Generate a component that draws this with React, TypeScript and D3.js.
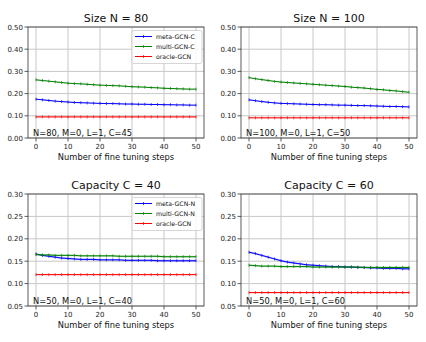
import React from "react";
import * as d3 from "d3";

const steps = d3.range(0, 51, 2);

const p1Meta = [0.175,0.172,0.169,0.166,0.164,0.162,0.160,0.159,0.158,0.157,0.156,0.155,0.155,0.154,0.153,0.153,0.152,0.152,0.151,0.151,0.150,0.150,0.149,0.149,0.148,0.148];
const p1Multi = [0.262,0.259,0.256,0.253,0.250,0.247,0.245,0.244,0.242,0.240,0.238,0.237,0.236,0.235,0.233,0.231,0.230,0.229,0.227,0.226,0.224,0.223,0.222,0.221,0.220,0.220];
const p1Oracle = [0.095,0.095,0.095,0.095,0.095,0.095,0.095,0.095,0.095,0.095,0.095,0.095,0.095,0.095,0.095,0.095,0.095,0.095,0.095,0.095,0.095,0.095,0.095,0.095,0.095,0.095];

const p2Meta = [0.172,0.168,0.164,0.161,0.158,0.156,0.155,0.154,0.153,0.152,0.151,0.150,0.150,0.149,0.148,0.148,0.147,0.146,0.146,0.145,0.144,0.143,0.142,0.142,0.141,0.140];
const p2Multi = [0.272,0.267,0.263,0.259,0.255,0.252,0.250,0.248,0.246,0.244,0.242,0.240,0.238,0.236,0.234,0.232,0.229,0.227,0.225,0.222,0.219,0.217,0.214,0.212,0.209,0.206];
const p2Oracle = [0.091,0.091,0.091,0.091,0.091,0.091,0.091,0.091,0.091,0.091,0.091,0.091,0.091,0.091,0.091,0.091,0.091,0.091,0.091,0.091,0.091,0.091,0.091,0.091,0.091,0.091];

const p3Meta = [0.166,0.163,0.161,0.159,0.157,0.156,0.155,0.154,0.154,0.154,0.153,0.153,0.153,0.153,0.152,0.152,0.152,0.152,0.152,0.151,0.151,0.151,0.151,0.151,0.151,0.151];
const p3Multi = [0.165,0.164,0.164,0.163,0.163,0.163,0.163,0.162,0.162,0.162,0.162,0.162,0.162,0.161,0.161,0.161,0.161,0.161,0.161,0.161,0.160,0.160,0.160,0.160,0.160,0.160];
const p3Oracle = [0.12,0.12,0.12,0.12,0.12,0.12,0.12,0.12,0.12,0.12,0.12,0.12,0.12,0.12,0.12,0.12,0.12,0.12,0.12,0.12,0.12,0.12,0.12,0.12,0.12,0.12];

const p4Meta = [0.170,0.167,0.163,0.159,0.155,0.151,0.148,0.146,0.144,0.142,0.141,0.140,0.139,0.138,0.138,0.137,0.137,0.136,0.136,0.135,0.135,0.134,0.134,0.134,0.133,0.133];
const p4Multi = [0.141,0.140,0.139,0.139,0.139,0.138,0.138,0.138,0.138,0.138,0.137,0.137,0.137,0.137,0.137,0.137,0.137,0.137,0.136,0.136,0.136,0.136,0.136,0.136,0.136,0.136];
const p4Oracle = [0.08,0.08,0.08,0.08,0.08,0.08,0.08,0.08,0.08,0.08,0.08,0.08,0.08,0.08,0.08,0.08,0.08,0.08,0.08,0.08,0.08,0.08,0.08,0.08,0.08,0.08];

const bandHalf = [0.002, 0.002, 0.0015];

const titles = ["Size N = 80", "Size N = 100", "Capacity C = 40", "Capacity C = 60"];
const notes = ["N=80, M=0, L=1, C=45", "N=100, M=0, L=1, C=50", "N=50, M=0, L=1, C=40", "N=50, M=0, L=1, C=60"];
const legendC = ["meta-GCN-C", "multi-GCN-C", "oracle-GCN"];
const legendN = ["meta-GCN-N", "multi-GCN-N", "oracle-GCN"];
const xTicks = [0, 10, 20, 30, 40, 50];
const yTicksTop = [0, 0.1, 0.2, 0.3, 0.4, 0.5];
const yTicksBottom = [0.05, 0.1, 0.15, 0.2, 0.25, 0.3];
const colors = ["#0000ff", "#008000", "#ff0000"];

const FONT = "DejaVu Sans, sans-serif";

type PanelProps = {
  left: number; top: number; width: number; height: number;
  title: string; note: string; series: number[][];
  yDomain: [number, number]; yTicks: number[]; legend: string[] | null;
};

function Panel({ left, top, width, height, title, note, series, yDomain, yTicks, legend }: PanelProps) {
  const x = d3.scaleLinear().domain([-2.5, 52.5]).range([left, left + width]);
  const y = d3.scaleLinear().domain(yDomain).range([top + height, top]);
  const line = d3.line<number>().x((_, i) => x(steps[i])).y((v) => y(v));
  return (
    <g>
      <rect x={left} y={top} width={width} height={height} fill="white" />
      {xTicks.map((t) => (
        <line key={"gx" + t} x1={x(t)} x2={x(t)} y1={top} y2={top + height} stroke="#c8c8c8" strokeWidth={1} />
      ))}
      {yTicks.map((t) => (
        <line key={"gy" + t} x1={left} x2={left + width} y1={y(t)} y2={y(t)} stroke="#c8c8c8" strokeWidth={1} />
      ))}
      {series.map((s, si) => {
        const area = d3.area<number>().x((_, i) => x(steps[i])).y0((v) => y(v - bandHalf[si])).y1((v) => y(v + bandHalf[si]));
        return (
          <g key={"s" + si}>
            <path d={area(s) || ""} fill={colors[si]} fillOpacity={0.25} stroke="none" />
            <path d={line(s) || ""} fill="none" stroke={colors[si]} strokeWidth={1} />
            {s.map((v, i) => (
              <g key={i}>
                <line x1={x(steps[i])} x2={x(steps[i])} y1={y(v) - 1.5} y2={y(v) + 1.5} stroke={colors[si]} strokeWidth={0.7} />
              </g>
            ))}
          </g>
        );
      })}
      <rect x={left} y={top} width={width} height={height} fill="none" stroke="#333" strokeWidth={0.8} />
      {xTicks.map((t) => (
        <g key={"xt" + t}>
          <line x1={x(t)} x2={x(t)} y1={top + height} y2={top + height + 3.5} stroke="#333" strokeWidth={0.8} />
          <text x={x(t)} y={top + height + 11} fontSize={7} textAnchor="middle" fontFamily={FONT} fill="#222">{t}</text>
        </g>
      ))}
      {yTicks.map((t) => (
        <g key={"yt" + t}>
          <line x1={left - 3.5} x2={left} y1={y(t)} y2={y(t)} stroke="#333" strokeWidth={0.8} />
          <text x={left - 5} y={y(t) + 2.5} fontSize={7} textAnchor="end" fontFamily={FONT} fill="#222">{t.toFixed(2)}</text>
        </g>
      ))}
      <text x={left + width / 2} y={top - 5} fontSize={11} textAnchor="middle" fontFamily={FONT} fill="#111">{title}</text>
      <text x={left + width / 2} y={top + height + 22} fontSize={8.3} textAnchor="middle" fontFamily={FONT} fill="#111">Number of fine tuning steps</text>
      <text x={left + 5} y={top + height - 2.5} fontSize={8.3} fontFamily={FONT} fill="#111">{note}</text>
      {legend && (
        <g>
          <rect x={left + width - 72} y={top + 3.5} width={70} height={33} rx={2} fill="white" fillOpacity={0.85} stroke="#ccc" strokeWidth={0.8} />
          {legend.map((name, i) => {
            const ly = top + 9.5 + i * 10;
            return (
              <g key={name}>
                <line x1={left + width - 69} x2={left + width - 52} y1={ly} y2={ly} stroke={colors[i]} strokeWidth={1} />
                <line x1={left + width - 60.5} x2={left + width - 60.5} y1={ly - 1.5} y2={ly + 1.5} stroke={colors[i]} strokeWidth={0.7} />
                <text x={left + width - 48} y={ly + 2.2} fontSize={6.2} fontFamily={FONT} fill="#111">{name}</text>
              </g>
            );
          })}
        </g>
      )}
    </g>
  );
}

export default function App() {
  return (
    <svg width={426} height={342} style={{ position: "absolute", left: 0, top: 0, background: "white" }}>
      <rect width={426} height={342} fill="white" />
      <Panel left={28} top={27} width={176} height={111} title={titles[0]} note={notes[0]} series={[p1Meta, p1Multi, p1Oracle]} yDomain={[0, 0.5]} yTicks={yTicksTop} legend={legendC} />
      <Panel left={241} top={27} width={176} height={111} title={titles[1]} note={notes[1]} series={[p2Meta, p2Multi, p2Oracle]} yDomain={[0, 0.5]} yTicks={yTicksTop} legend={null} />
      <Panel left={28} top={194} width={176} height={112} title={titles[2]} note={notes[2]} series={[p3Meta, p3Multi, p3Oracle]} yDomain={[0.05, 0.3]} yTicks={yTicksBottom} legend={legendN} />
      <Panel left={241} top={194} width={176} height={112} title={titles[3]} note={notes[3]} series={[p4Meta, p4Multi, p4Oracle]} yDomain={[0.05, 0.3]} yTicks={yTicksBottom} legend={null} />
    </svg>
  );
}
